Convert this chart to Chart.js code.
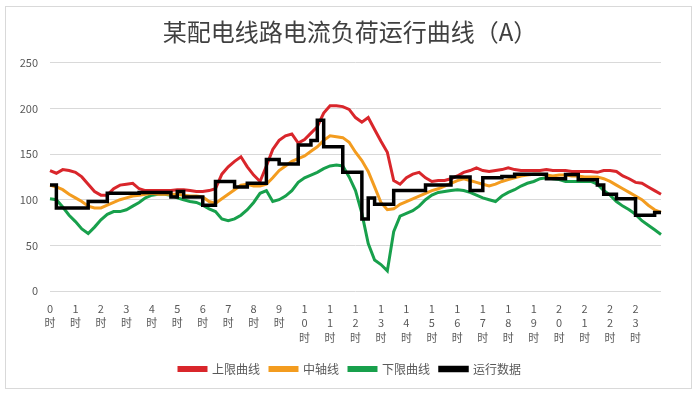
<!DOCTYPE html>
<html>
<head>
<meta charset="utf-8">
<script src="https://cdn.jsdelivr.net/npm/chart.js@4.4.1/dist/chart.umd.min.js"></script>
<style>
  body { margin: 0; background: #fff; }
  #frame { position: absolute; left: 5px; top: 6px; width: 685px; height: 381px; border: 1px solid #d9d9d9; }
  #chart { position: absolute; left: 0; top: 0; }
</style>
</head>
<body>
<div id="frame"></div>
<canvas id="chart" width="700" height="397"></canvas>
<script>
// 每15分钟一个点，0:00 ~ 24:00，共97个点
const hourLabels = ["0时","1时","2时","3时","4时","5时","6时","7时","8时","9时","10时","11时",
  "12时","13时","14时","15时","16时","17时","18时","19时","20时","21时","22时","23时"];

const upperLimit = [
  132,129,133,132,130,125,117,109,105,105,112,116,117,118,112,110,
  110,110,110,110,111,111,110,109,109,110,112,128,136,142,147,136,
  127,120,137,155,165,170,172,162,166,173,180,195,203,203,202,199,
  190,185,190,177,164,152,121,117,124,128,130,124,120,121,121,123,
  126,130,132,135,132,131,132,133,135,133,132,132,132,132,133,132,
  132,132,131,131,131,131,130,132,132,131,126,123,119,118,114,110,
  106
];

const midLine = [
  116,114,111,106,102,98,93,91,91,94,97,100,102,104,105,106,
  107,106,106,106,106,105,104,104,103,98,96,101,106,111,116,117,
  115,115,117,124,132,137,142,145,148,153,158,165,170,169,168,163,
  152,143,131,114,97,89,90,95,98,101,104,107,110,112,115,118,
  121,123,121,119,117,115,117,120,122,124,126,127,128,128,127,126,
  127,127,126,126,125,125,125,123,120,116,112,108,104,100,94,89,
  86
];

const lowerLimit = [
  101,100,92,83,76,68,63,70,78,84,87,87,89,93,97,102,
  105,106,106,105,102,100,98,97,94,90,87,79,77,79,83,89,
  97,107,110,98,100,104,110,119,124,127,130,134,137,138,137,125,
  110,85,52,34,29,22,65,82,85,88,93,100,105,108,109,110,
  111,110,108,105,102,100,98,104,108,111,115,118,120,123,124,123,
  122,120,120,120,120,120,117,110,105,98,93,89,84,77,72,67,
  62
];

const runData = [
  116,91,91,91,91,91,98,98,98,107,107,107,107,107,108,108,
  108,108,108,103,109,103,103,103,94,94,120,120,120,114,114,118,
  118,118,144,144,139,139,139,160,160,165,187,158,158,158,130,130,
  130,79,102,95,95,95,110,110,110,110,110,116,116,116,116,125,
  125,125,110,110,124,124,124,125.5,125.5,128,128,128,128,128,123,123,
  123,127.5,127.5,122,122,122,116,106,106,101,101,101,83,83,83,86,
  86
];

const timeLabels = upperLimit.map((v, i) => (i % 4 === 0 && i < 96) ? hourLabels[i / 4] : "");

const cjk = "'Noto Sans CJK SC', 'Noto Sans', sans-serif";
const gray = "#595959";

new Chart(document.getElementById("chart"), {
  type: "line",
  data: {
    labels: timeLabels,
    datasets: [
      { label: "上限曲线", data: upperLimit, borderColor: "#d9262b", backgroundColor: "#d9262b", borderWidth: 3 },
      { label: "中轴线", data: midLine, borderColor: "#f39c1f", backgroundColor: "#f39c1f", borderWidth: 3 },
      { label: "下限曲线", data: lowerLimit, borderColor: "#18a04c", backgroundColor: "#18a04c", borderWidth: 3 },
      { label: "运行数据", data: runData, borderColor: "#000000", backgroundColor: "#000000", borderWidth: 3.5, stepped: true, order: -1 }
    ]
  },
  options: {
    responsive: false,
    animation: false,
    devicePixelRatio: 1,
    layout: { padding: { left: 0, right: 0, top: 0, bottom: 12 } },
    elements: { point: { radius: 0 }, line: { tension: 0 } },
    plugins: {
      title: {
        display: true,
        text: "某配电线路电流负荷运行曲线（A）",
        color: "#404040",
        font: { family: cjk, size: 24, weight: "normal" },
        padding: { top: 17, bottom: 17 }
      },
      legend: {
        position: "bottom",
        labels: {
          color: gray,
          font: { family: cjk, size: 12 },
          boxWidth: 27,
          boxHeight: 3,
          padding: 10,
          sort: (a, b) => a.datasetIndex - b.datasetIndex
        }
      },
      tooltip: { enabled: false }
    },
    scales: {
      x: {
        grid: { display: false },
        border: { display: false },
        ticks: {
          autoSkip: false,
          maxRotation: 0,
          minRotation: 0,
          padding: 2,
          color: gray,
          font: { family: cjk, size: 11, lineHeight: 1.35 },
          callback: function (value) {
            const s = this.getLabelForValue(value);
            return s ? Array.from(s) : null;
          }
        },
        afterFit: (scale) => { scale.height = 62; }
      },
      y: {
        min: 0,
        max: 250,
        grid: { color: "#d9d9d9", drawTicks: false },
        border: { display: false },
        ticks: {
          stepSize: 50,
          padding: 12,
          color: gray,
          font: { family: cjk, size: 11 }
        },
        afterFit: (scale) => { scale.width = 50; }
      },
      // 右侧留白，不显示内容
      yRight: {
        position: "right",
        grid: { display: false },
        border: { display: false },
        ticks: { display: false },
        afterFit: (scale) => { scale.width = 39; }
      }
    }
  }
});
</script>
</body>
</html>
